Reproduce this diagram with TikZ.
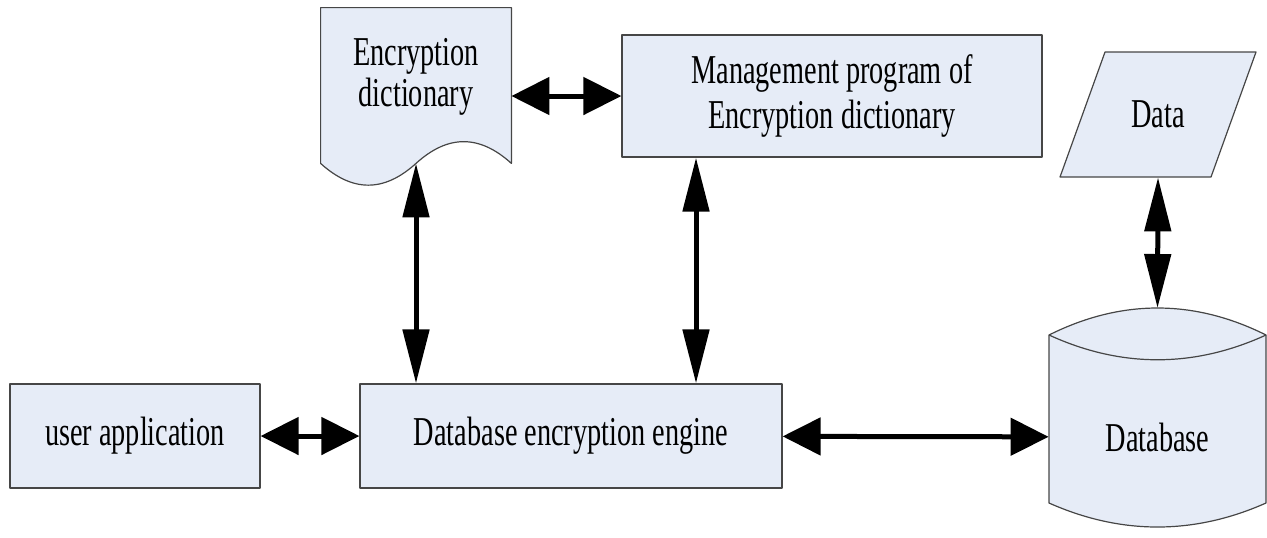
\documentclass[tikz,border=0pt]{standalone}
\usepackage{fontspec}
\setmainfont{Liberation Serif}[FakeStretch=0.69]
\usetikzlibrary{arrows.meta}
\definecolor{boxfill}{RGB}{230,236,247}
\definecolor{boxline}{RGB}{70,70,70}
\tikzset{
	box/.style={draw=boxline, fill=boxfill, line width=0.6pt},
	blk/.style={box, rectangle, inner sep=0pt, align=center},
	lbl/.style={inner sep=0pt, align=center},
	harrow/.style={line width=2.5pt, {Triangle[length=19pt,width=18.5pt]}-{Triangle[length=19pt,width=18.5pt]}},
	varrow/.style={line width=2.5pt, {Triangle[length=27pt,width=13pt]}-{Triangle[length=27pt,width=13pt]}},
}
\begin{document}
\begin{tikzpicture}[x=0.5pt, y=-0.5pt, font=\fontsize{20.5}{22.5}\selectfont, line join=round]
	\useasboundingbox (0,0) rectangle (1267,537);
	% các khối chữ nhật
	\node[blk, minimum width=125pt, minimum height=52pt] (user) at (135,436) {user application};
	\node[blk, minimum width=211pt, minimum height=52pt] (engine) at (571,436) {Database encryption engine};
	\node[blk, minimum width=210pt, minimum height=61pt] (mgmt) at (832,96) {Management program of\\Encryption dictionary};
	% tài liệu (đáy lượn sóng)
	\node[lbl, minimum width=95pt, minimum height=77.5pt] (dict) at (416,85.5) {};
	\draw[box] (dict.south west)--(dict.north west)--(dict.north east)--(dict.south east)
		.. controls +(-32,-29) and +(32,-29) .. (dict.south)
		.. controls +(-32,29) and +(32,29) .. (dict.south west)--cycle;
	\node[lbl, font=\fontsize{20.5}{20.5}\selectfont] (dicttext) at (416,77) {Encryption\\dictionary};
	% dữ liệu
	\draw[box] (1105,52)--(1256,52)--(1211,177)--(1060,177)--cycle;
	\node[lbl, minimum height=62.5pt] (data) at (1158,114.5) {Data};
	% cơ sở dữ liệu
	\draw[box] (1049,335)--(1049,503) .. controls (1121,535) and (1194,535) .. (1266,503)
		--(1266,335) .. controls (1194,299) and (1121,299) .. (1049,335)--cycle;
	\draw[boxline, line width=0.6pt] (1049,335) .. controls (1121,368) and (1194,368) .. (1266,335);
	\coordinate (dbtop) at (1157.5,308);
	\node[lbl, minimum width=108.5pt] (db) at (1157.5,437) {Database};
	% mũi tên
	\foreach \a/\b in {user/engine, engine/db} \draw[harrow] (\a)--(\b);
	\draw[harrow] (dict.east |- mgmt.west)--(mgmt.west);
	\draw[varrow] (dict.south)--(dict.south |- engine.north);
	\draw[varrow] ([xshift=-68pt]mgmt.south)--([xshift=-68pt]mgmt.south |- engine.north);
	\draw[varrow] (data.south)--(dbtop);
\end{tikzpicture}
\end{document}
